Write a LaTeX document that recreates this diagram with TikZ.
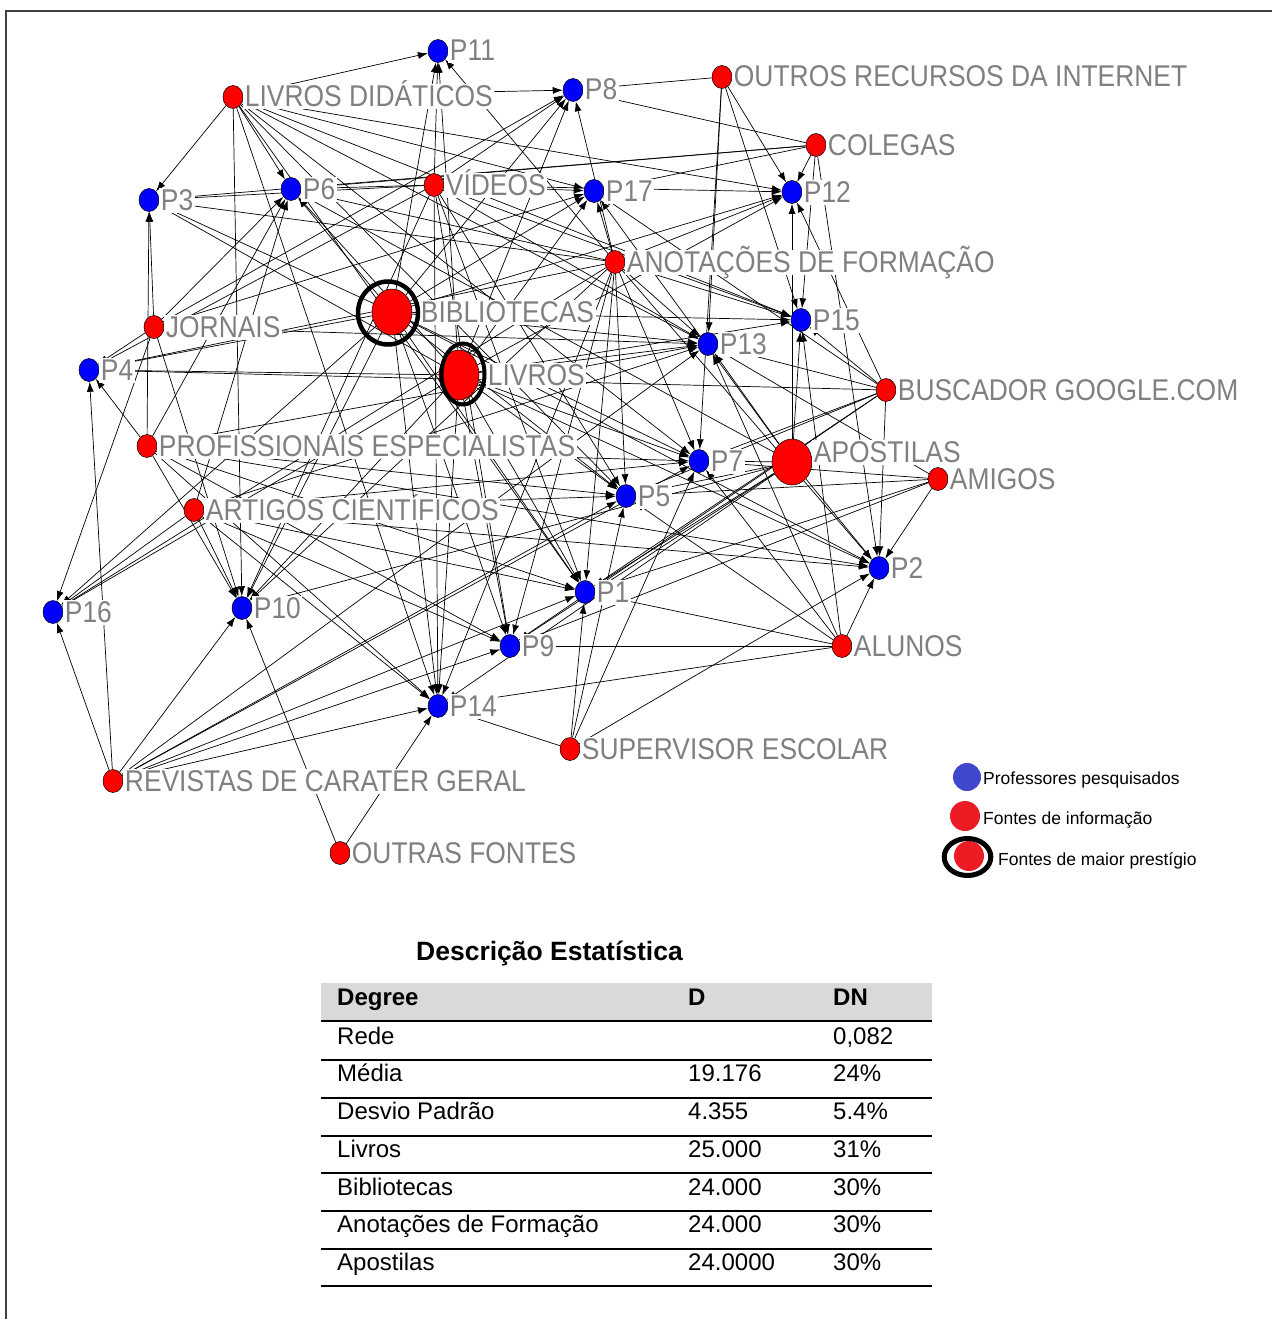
\documentclass[tikz,border=0pt]{standalone}
\usepackage{fontspec}
\setmainfont{Liberation Sans}
\newfontfamily\netfont[FakeStretch=0.88]{Liberation Sans}
\usetikzlibrary{arrows.meta,positioning,shapes.geometric,backgrounds}
\definecolor{labelgray}{RGB}{128,128,128}
\definecolor{legblue}{RGB}{63,72,204}
\definecolor{legred}{RGB}{237,28,36}
\definecolor{headgray}{RGB}{217,217,217}
\definecolor{framegray}{RGB}{64,64,64}

\begin{document}
\begin{tikzpicture}[x=1pt,y=-1pt,
    teacher/.style={ellipse, draw=black, line width=0.5pt, fill=blue, minimum width=20pt, minimum height=23pt, inner sep=0pt},
    source/.style={teacher, fill=red},
    bigsource/.style={source, minimum width=40pt, minimum height=46pt},
    lbl/.style={font=\netfont\fontsize{30}{30}\selectfont, text=labelgray, fill=white, inner sep=1.5pt, text height=21pt, text depth=1pt},
    edge/.style={draw=black, line width=0.7pt, -{Latex[length=10pt,width=7pt]}},
    ring/.style={draw=black, line width=4.5pt},
    legtext/.style={font=\fontsize{17.5}{20}\selectfont, anchor=base west, inner sep=0pt},
    cell/.style={font=\fontsize{24}{28}\selectfont, anchor=base west, inner sep=0pt},
    hcell/.style={cell, font=\bfseries\fontsize{24}{28}\selectfont},
    rule/.style={draw=black, line width=2pt}]
    \useasboundingbox (0,0) rectangle (1272,1319);
    \draw[framegray, line width=1.5pt] (6,1319) -- (6,11) -- (1272,11);

    % Professores
    \node[teacher, label={[lbl]right:P11}] (p11) at (438,51) {};
    \node[teacher, label={[lbl]right:P8}] (p8) at (573,90) {};
    \node[teacher, label={[lbl]right:P3}] (p3) at (149,200) {};
    \node[teacher, label={[lbl]right:P6}] (p6) at (291,189) {};
    \node[teacher, label={[lbl]right:P17}] (p17) at (594,191) {};
    \node[teacher, label={[lbl]right:P12}] (p12) at (792,192) {};
    \node[teacher, label={[lbl]right:P15}] (p15) at (801,320) {};
    \node[teacher, label={[lbl]right:P13}] (p13) at (708,344) {};
    \node[teacher, label={[lbl]right:P4}] (p4) at (89,370) {};
    \node[teacher, label={[lbl]right:P7}] (p7) at (699,461) {};
    \node[teacher, label={[lbl]right:P5}] (p5) at (626,496) {};
    \node[teacher, label={[lbl]right:P2}] (p2) at (879,568) {};
    \node[teacher, label={[lbl]right:P1}] (p1) at (585,592) {};
    \node[teacher, label={[lbl]right:P16}] (p16) at (53,612) {};
    \node[teacher, label={[lbl]right:P10}] (p10) at (242,608) {};
    \node[teacher, label={[lbl]right:P9}] (p9) at (510,646) {};
    \node[teacher, label={[lbl]right:P14}] (p14) at (438,706) {};

    % Fontes de informacao
    \node[source, label={[lbl]right:LIVROS DIDÁTICOS}] (didat) at (233,97) {};
    \node[source, label={[lbl]right:OUTROS RECURSOS DA INTERNET}] (internet) at (722,77) {};
    \node[source, label={[lbl]right:COLEGAS}] (colegas) at (816,145) {};
    \node[source, label={[lbl]right:VÍDEOS}] (videos) at (434,185) {};
    \node[source, label={[lbl]right:ANOTAÇÕES DE FORMAÇÃO}] (anotacoes) at (615,262) {};
    \node[bigsource, label={[lbl,xshift=7pt]right:BIBLIOTECAS}] (biblio) at (392,312) {};
    \node[source, label={[lbl]right:JORNAIS}] (jornais) at (154,327) {};
    \node[bigsource, minimum height=50pt, label={[lbl,xshift=7pt]right:LIVROS}] (livros) at (459,375) {};
    \node[source, label={[lbl]right:BUSCADOR GOOGLE.COM}] (google) at (886,390) {};
    \node[source, label={[lbl]right:PROFISSIONAIS ESPECIALISTAS}] (especial) at (147,446) {};
    \node[bigsource, label={[lbl,yshift=10pt]right:APOSTILAS}] (apostilas) at (792,462) {};
    \node[source, label={[lbl]right:AMIGOS}] (amigos) at (938,479) {};
    \node[source, label={[lbl]right:ARTIGOS CIENTÍFICOS}] (artigos) at (194,510) {};
    \node[source, label={[lbl]right:ALUNOS}] (alunos) at (842,646) {};
    \node[source, label={[lbl]right:SUPERVISOR ESCOLAR}] (supervisor) at (570,749) {};
    \node[source, label={[lbl]right:REVISTAS DE CARATER GERAL}] (revistas) at (113,781) {};
    \node[source, label={[lbl]right:OUTRAS FONTES}] (outras) at (340,853) {};

    % Fontes de maior prestigio
    \draw[ring] (388,313) ellipse [x radius=30, y radius=31.5];
    \draw[ring, line width=4pt] (463,374) ellipse [x radius=21.5, y radius=30.5];

    \begin{pgfonlayer}{background}
    \foreach \src/\dsts in {
        didat/{p11,p8,p3,p6,p10,p17,p12,p13,p15,p7,p5,p1,p14},
        internet/{p8,p12,p13,p15,p7},
        colegas/{p8,p12,p15,p6,p3,p2,p17},
        videos/{p11,p6,p3,p8,p17,p12,p13,p15,p5,p1,p9,p14,p10,p4},
        anotacoes/{p17,p8,p12,p15,p13,p7,p5,p1,p2,p3,p6,p14,p9,p10,p4,p16,p11},
        biblio/{p6,p3,p11,p8,p17,p12,p15,p13,p7,p5,p1,p9,p14,p10,p4,p16,p2},
        jornais/{p3,p4,p6,p13,p10,p16,p17,p8},
        livros/{p4,p3,p6,p11,p8,p17,p12,p15,p13,p7,p5,p1,p2,p9,p14,p10,p16},
        google/{p15,p13,p12,p7,p4,p1,p5,p2,p9,p17},
        especial/{p4,p3,p10,p14,p9,p1,p5,p7,p13,p2,p6},
        apostilas/{p15,p12,p13,p7,p5,p1,p9,p14,p2,p10,p17,p6},
        amigos/{p2,p7,p5,p1,p13,p9},
        artigos/{p10,p14,p9,p1,p5,p7,p13,p2,p16,p6},
        alunos/{p2,p7,p5,p1,p9,p14,p13,p15},
        supervisor/{p1,p5,p14,p7,p2},
        revistas/{p16,p4,p10,p14,p9,p1,p5,p7,p13},
        outras/{p10,p14}}
      \foreach \dst in \dsts
        \draw[edge] (\src) -- (\dst);
    \end{pgfonlayer}

    % Legenda
    \node[circle, fill=legblue, minimum size=28pt, inner sep=0pt] (legprof) at (967,777) {};
    \node[legtext] (legproftxt) at (983,784) {Professores pesquisados};
    \node[circle, fill=legred, minimum size=30pt, inner sep=0pt] (legfont) at (965,816) {};
    \node[legtext] (legfonttxt) at (983,824) {Fontes de informação};
    \node[circle, fill=legred, minimum size=30pt, inner sep=0pt] (legmaior) at (969,856) {};
    \draw[line width=5pt] (967.5,857) ellipse [x radius=23.3, y radius=18.5];
    \node[legtext] (legmaiortxt) at (998,865) {Fontes de maior prestígio};

    % Tabela
    \node[font=\bfseries\fontsize{26.5}{30}\selectfont, anchor=base west, inner sep=0pt] (titulo) at (416,960) {Descrição Estatística};
    \fill[headgray] (321,983) rectangle (932,1021);
    \node[hcell] (hdeg) at (337,1005) {Degree};
    \node[hcell] (hd) at (688,1005) {D};
    \node[hcell] (hdn) at (833,1005) {DN};
    \draw[rule, line width=2.5pt] (321,1021) -- (932,1021);
    \foreach \name/\dval/\dnval [count=\r] in {Rede/{}/{0,082}, Média/19.176/24\%,
        Desvio Padrão/4.355/5.4\%, Livros/25.000/31\%, Bibliotecas/24.000/30\%,
        Anotações de Formação/24.000/30\%, Apostilas/24.0000/30\%} {
      \node[cell] (row\r) at (337,{1006.5+37.7*\r}) {\name};
      \node[cell] (d\r) at (688,{1006.5+37.7*\r}) {\dval};
      \node[cell] (dn\r) at (833,{1006.5+37.7*\r}) {\dnval};
      \draw[rule] (321,{1022.5+37.7*\r}) -- (932,{1022.5+37.7*\r});
    }
\end{tikzpicture}
\end{document}
